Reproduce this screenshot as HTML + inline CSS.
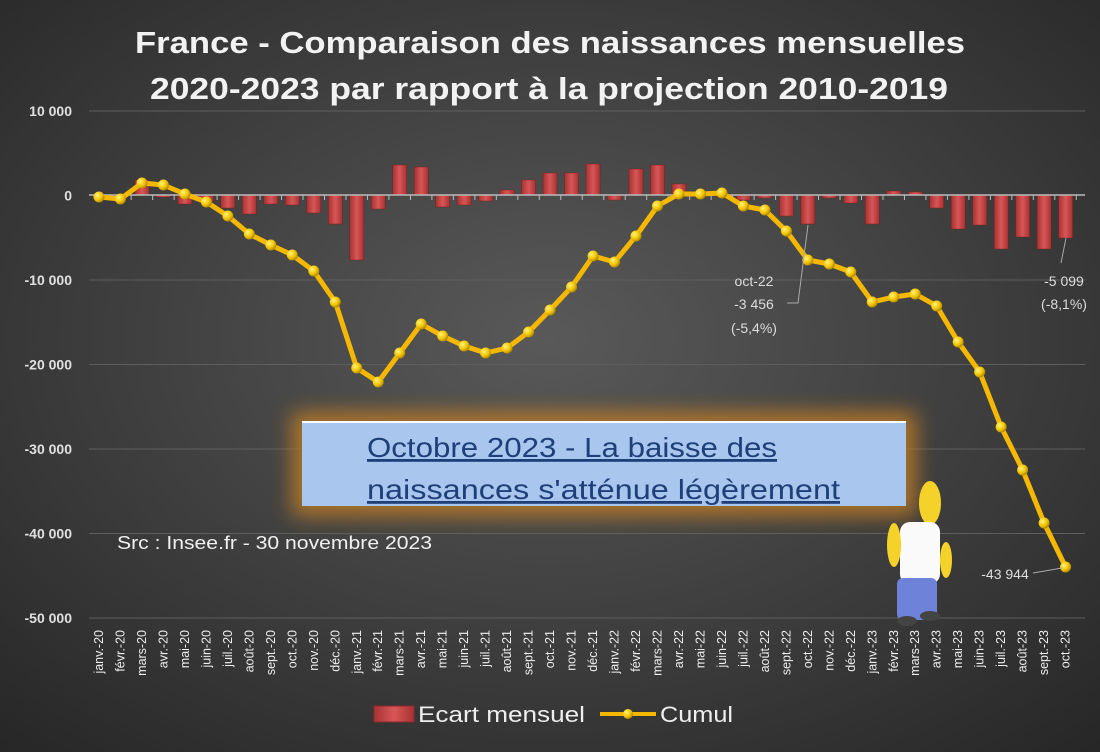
<!DOCTYPE html>
<html><head><meta charset="utf-8"><style>
body{margin:0;width:1100px;height:752px;overflow:hidden;background:#3a3a3a;}
svg{display:block}
</style></head><body>
<svg id="c" width="1100" height="752" xmlns="http://www.w3.org/2000/svg" font-family="Liberation Sans, DejaVu Sans, sans-serif">
<defs>
<radialGradient id="bg" cx="0.5" cy="0.45" r="0.75">
<stop offset="0" stop-color="#595959"/><stop offset="1" stop-color="#262626"/>
</radialGradient>
<linearGradient id="bar" x1="0" x2="1"><stop offset="0" stop-color="#a83232"/><stop offset="0.5" stop-color="#d85656"/><stop offset="1" stop-color="#a83232"/></linearGradient>
<radialGradient id="ball" cx="0.35" cy="0.35" r="0.7"><stop offset="0" stop-color="#fff27a"/><stop offset="0.6" stop-color="#f2c400"/><stop offset="1" stop-color="#a88200"/></radialGradient>
<filter id="glow" x="-20%" y="-40%" width="140%" height="180%"><feGaussianBlur stdDeviation="10"/></filter>
</defs>
<rect width="1100" height="752" fill="url(#bg)"/>
<text x="135" y="53" textLength="830" lengthAdjust="spacingAndGlyphs" font-size="31" font-weight="bold" fill="#f2f2f2">France - Comparaison des naissances mensuelles</text>
<text x="150" y="99" textLength="798" lengthAdjust="spacingAndGlyphs" font-size="31" font-weight="bold" fill="#f2f2f2">2020-2023 par rapport à la projection 2010-2019</text>
<g id="grid" stroke="#5e5e5e" stroke-width="1"></g>
<g id="ylab" font-size="14" font-weight="bold" fill="#e0e0e0" text-anchor="end"></g>
<g id="bars"></g>
<line x1="89" y1="195" x2="1085" y2="195" stroke="#bbbbbb" stroke-width="1.5"/>
<g id="ticks" stroke="#bbb"></g>
<g id="xlab" font-size="12.5" fill="#eeeeee"></g>
<polyline id="line" fill="none" stroke="#f5b800" stroke-width="5" stroke-linejoin="round"/>
<g id="pts"></g>
<rect x="292" y="412" width="624" height="104" fill="#c88020" opacity="0.8" filter="url(#glow)"/>
<rect x="302" y="422" width="604" height="84" fill="#a9c6ee"/>
<line x1="302" y1="422" x2="906" y2="422" stroke="#fff" stroke-width="2"/>
<text x="367" y="457" font-size="28" textLength="410" lengthAdjust="spacingAndGlyphs" fill="#1f3f78" text-decoration="underline">Octobre 2023 - La baisse des</text>
<text x="367" y="499" font-size="28" textLength="473" lengthAdjust="spacingAndGlyphs" fill="#1f3f78" text-decoration="underline">naissances s'atténue légèrement</text>
<text x="117" y="549" font-size="18" textLength="315" lengthAdjust="spacingAndGlyphs" fill="#f0f0f0">Src : Insee.fr - 30 novembre 2023</text>
<g font-size="14" fill="#dddddd" text-anchor="middle">
<text x="754" y="286">oct-22</text><text x="754" y="309">-3 456</text><text x="754" y="333">(-5,4%)</text>
<text x="1064" y="286">-5 099</text><text x="1064" y="309">(-8,1%)</text>
<text x="1005" y="579">-43 944</text>
</g>
<polyline points="787,303 798,303 808,225" fill="none" stroke="#aaa" stroke-width="1"/>
<line x1="1061" y1="263" x2="1066" y2="238" stroke="#aaa"/>
<line x1="1033" y1="573" x2="1062" y2="568" stroke="#aaa"/>
<g>
<ellipse cx="930" cy="503" rx="11" ry="22" fill="#f4d22a"/>
<rect x="900" y="522" width="40" height="62" rx="10" fill="#fafafa"/>
<rect x="897" y="578" width="40" height="42" rx="6" fill="#6d82d8"/>
<ellipse cx="894" cy="545" rx="7" ry="22" fill="#f4d22a"/>
<ellipse cx="946" cy="560" rx="6" ry="18" fill="#f4d22a"/>
<ellipse cx="907" cy="621" rx="10" ry="5" fill="#444"/><ellipse cx="930" cy="616" rx="10" ry="5" fill="#444"/>
</g>
<rect x="374" y="706" width="40" height="16" fill="url(#bar)" stroke="#8a2a2a"/>
<text x="418" y="722" font-size="22" textLength="167" lengthAdjust="spacingAndGlyphs" fill="#eeeeee">Ecart mensuel</text>
<line x1="600" y1="714" x2="656" y2="714" stroke="#f5b800" stroke-width="4"/>
<circle cx="628" cy="714" r="5" fill="url(#ball)"/>
<text x="660" y="722" font-size="22" textLength="73" lengthAdjust="spacingAndGlyphs" fill="#eeeeee">Cumul</text>
</svg>
<script>
var NS="http://www.w3.org/2000/svg";
function el(p,t,a,txt){var e=document.createElementNS(NS,t);for(var k in a)e.setAttribute(k,a[k]);if(txt!=null)e.textContent=txt;document.getElementById(p).appendChild(e);return e;}
var yl=["10 000","0","-10 000","-20 000","-30 000","-40 000","-50 000"];
for(var i=0;i<7;i++){var y=111+i*84.5;if(i!=1)el("grid","line",{x1:89,x2:1085,y1:y,y2:y});el("ylab","text",{x:72,y:y+5},yl[i]);}
var cum=[197,199,183,185,194,202,216,234,245,255,271,302,368,382,353,324,336,346,353,348,332,310,287,256,262,236,206,194,194,193,206,210,231,260,264,272,302,297,294,306,342,372,427,470,523,567];
var bar=[196,197,180,197,204,202,208,214,204,205,213,224,260,209,165,167,207,205,201,190,180,173,173,164,200,169,165,184,194,196,200,198,216,224,198,203,224,191,192,208,229,225,249,237,249,238];
var m=["janv.","févr.","mars","avr.","mai","juin","juil.","août","sept.","oct.","nov.","déc."];
var pts=[];
for(var i=0;i<46;i++){var x=99+i*21.48;
 var b=bar[i],t=Math.min(b,195),h=Math.abs(b-195);
 if(h>0.5)el("bars","rect",{x:x-7,y:t,width:14,height:h,fill:"url(#bar)",stroke:"#7a2020","stroke-width":0.5});
 el("ticks","line",{x1:x+10.7,x2:x+10.7,y1:195,y2:200});
 var yr=20+Math.floor(i/12);var lab=m[i%12]+"-"+yr;
 el("xlab","text",{transform:"translate("+(x+4)+",630) rotate(-90)","text-anchor":"end"},lab);
 pts.push(x+","+cum[i]);
}
document.getElementById("line").setAttribute("points",pts.join(" "));
for(var i=0;i<46;i++){el("pts","circle",{cx:99+i*21.48,cy:cum[i],r:5.5,fill:"url(#ball)"});}
</script>
</body></html>
